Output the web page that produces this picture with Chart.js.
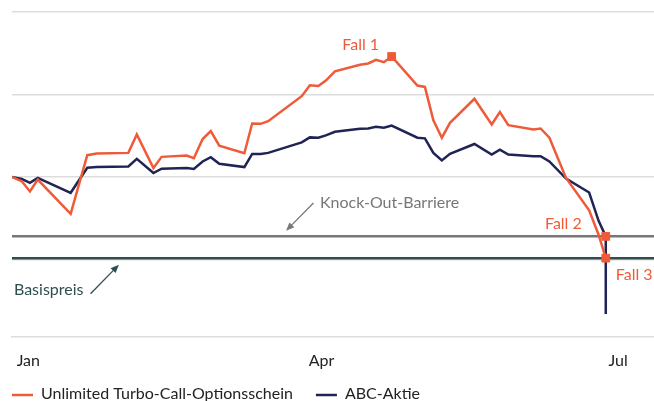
<!DOCTYPE html>
<html>
<head>
<meta charset="utf-8">
<script src="https://cdn.jsdelivr.net/npm/chart.js@4"></script>
<style>
  html, body { margin: 0; padding: 0; background: #fff; }
  #wrap { width: 654px; height: 401px; }
</style>
</head>
<body>
<div id="wrap"><canvas id="chart"></canvas></div>
<script>
// days since Jan 1 (negative = late December)
const days = [-5, -2, 0.5, 2.9, 13, 18.1, 21, 30.7, 33.3, 38.4, 40.9, 48.6, 50.8, 53.5, 56, 58.6,
  66.3, 68.7, 71.3, 73.6, 83.9, 86.4, 89, 91.3, 94.1, 101.8, 104.3, 106.7, 109.1, 111.5,
  119.4, 121.7, 124.3, 126.9, 129.4, 136.9, 142.2, 144.7, 147.3, 155, 157.2, 159.9,
  165, 172.1, 175, 177.2, 177.2];

const turbo = [50, 48.7, 45.6, 49.2, 38.8, 56.6, 57.1, 57.3, 62.9, 52.7, 56.1, 56.5, 55.7, 61.5, 63.9, 59.5,
  57.2, 66.2, 66.1, 66.9, 74.5, 77.8, 77.6, 79.2, 82, 84, 84.4, 85.5, 84.8, 86.5,
  77.7, 77.3, 67.2, 61.9, 66.4, 73.7, 65.9, 69.7, 65.7, 64.4, 64.7, 61.9,
  49.7, 39.9, 32.5, 25.4, null];

const aktie = [50, 49.4, 48.2, 49.7, 45.2, 52.8, 53, 53.2, 55.5, 51.2, 52.5, 52.7, 52.4, 54.7, 56, 54,
  53, 57, 57, 57.3, 60.5, 62, 61.9, 62.6, 63.7, 64.6, 64.7, 65.2, 64.9, 65.6,
  61.9, 61.7, 57.3, 55, 57, 60, 56.8, 58.3, 56.8, 56.3, 56.3, 54.7,
  49.5, 45.3, 36.7, 32, 8.5];

const barrier = 32;
const basis = 25.4;

const caseDays = [111.5, 177.2, 177.2];
const caseValues = [86.5, 32, 25.4];
const caseLabels = ["Fall 1", "Fall 2", "Fall 3"];

const monthTicks = [0, 90, 181];
const monthLabels = ["Jan", "Apr", "Jul"];
const gridValues = [25, 50, 75, 100];

const ORANGE = "#ef5b38";
const NAVY = "#1f2455";
const GREY = "#777777";
const TEAL = "#2f4e50";
const FONT = "Lato, 'Open Sans', sans-serif";

function arrow(ctx, x1, y1, x2, y2, color) {
  const a = Math.atan2(y2 - y1, x2 - x1);
  const head = 9;
  ctx.save();
  ctx.strokeStyle = color;
  ctx.fillStyle = color;
  ctx.lineWidth = 1.3;
  ctx.beginPath();
  ctx.moveTo(x1, y1);
  ctx.lineTo(x2 - Math.cos(a) * head * 0.8, y2 - Math.sin(a) * head * 0.8);
  ctx.stroke();
  ctx.beginPath();
  ctx.moveTo(x2, y2);
  ctx.lineTo(x2 - head * Math.cos(a - 0.4), y2 - head * Math.sin(a - 0.4));
  ctx.lineTo(x2 - head * Math.cos(a + 0.4), y2 - head * Math.sin(a + 0.4));
  ctx.closePath();
  ctx.fill();
  ctx.restore();
}

const levelsPlugin = {
  id: "levels",
  beforeDatasetsDraw(chart) {
    const { ctx, chartArea, scales: { y } } = chart;
    ctx.save();
    [[barrier, GREY], [basis, TEAL]].forEach(([v, c]) => {
      const py = y.getPixelForValue(v);
      ctx.strokeStyle = c;
      ctx.lineWidth = 2.5;
      ctx.beginPath();
      ctx.moveTo(chartArea.left, py);
      ctx.lineTo(chartArea.right, py);
      ctx.stroke();
    });
    ctx.restore();
  },
  afterDraw(chart) {
    const { ctx, scales: { x, y } } = chart;
    ctx.save();
    ctx.font = "16px " + FONT;
    ctx.textBaseline = "middle";

    // Knock-Out-Barriere label + arrow
    ctx.fillStyle = GREY;
    ctx.textAlign = "left";
    ctx.fillText("Knock-Out-Barriere", x.getPixelForValue(89.5), y.getPixelForValue(42.1));
    arrow(ctx, x.getPixelForValue(87.5), y.getPixelForValue(42.1), x.getPixelForValue(79.1), y.getPixelForValue(33.7), GREY);

    // Basispreis label + arrow
    ctx.fillStyle = TEAL;
    ctx.fillText("Basispreis", x.getPixelForValue(-4.4), y.getPixelForValue(15.8));
    arrow(ctx, x.getPixelForValue(19.1), y.getPixelForValue(14.6), x.getPixelForValue(27.8), y.getPixelForValue(23.4), TEAL);

    // case labels
    ctx.fillStyle = ORANGE;
    const offs = [[-31, -12, "center"], [-24, -13, "right"], [10, 17, "left"]];
    caseLabels.forEach((t, i) => {
      const px = x.getPixelForValue(caseDays[i]);
      const py = y.getPixelForValue(caseValues[i]);
      ctx.textAlign = offs[i][2];
      ctx.fillText(t, px + offs[i][0], py + offs[i][1]);
    });

    // legend
    ctx.textAlign = "left";
    ctx.fillStyle = "#222";
    let lx = 12;
    const ly = 394;
    chart.data.datasets.slice(0, 2).forEach(ds => {
      ctx.strokeStyle = ds.borderColor;
      ctx.lineWidth = 2.5;
      ctx.beginPath();
      ctx.moveTo(lx, ly + 1);
      ctx.lineTo(lx + 21, ly + 1);
      ctx.stroke();
      ctx.fillText(ds.label, lx + 29, ly);
      lx += 29 + ctx.measureText(ds.label).width + 23;
    });
    ctx.restore();
  }
};

new Chart(document.getElementById("chart"), {
  type: "line",
  data: {
    datasets: [
      {
        label: "Unlimited Turbo-Call-Optionsschein",
        data: days.map((d, i) => ({ x: d, y: turbo[i] })),
        borderColor: ORANGE,
        borderWidth: 2.5,
        pointRadius: 0,
        spanGaps: false
      },
      {
        label: "ABC-Aktie",
        data: days.map((d, i) => ({ x: d, y: aktie[i] })),
        borderColor: NAVY,
        borderWidth: 2.5,
        pointRadius: 0
      },
      {
        type: "scatter",
        label: "Fälle",
        data: caseDays.map((d, i) => ({ x: d, y: caseValues[i] })),
        backgroundColor: ORANGE,
        borderColor: ORANGE,
        pointStyle: "rect",
        pointRadius: 5.5,
        order: -1
      }
    ]
  },
  options: {
    responsive: true,
    maintainAspectRatio: false,
    animation: false,
    layout: { autoPadding: false, padding: { left: 12, top: 12, right: 0, bottom: 0 } },
    elements: { line: { tension: 0 } },
    plugins: { legend: { display: false }, tooltip: { enabled: false } },
    scales: {
      x: {
        type: "linear",
        min: -5,
        max: 192,
        afterBuildTicks: s => { s.ticks = monthTicks.map(v => ({ value: v })); },
        afterFit: s => { s.height = 64; s.paddingLeft = 0; s.paddingRight = 0; },
        ticks: {
          autoSkip: false,
          maxRotation: 0,
          padding: 14,
          color: "#222",
          font: { family: FONT, size: 16 },
          callback: v => monthLabels[monthTicks.indexOf(v)]
        },
        grid: { display: false, drawTicks: false },
        border: { display: true, color: "#dddddd", width: 1.5 }
      },
      y: {
        min: 1.5,
        max: 100,
        afterBuildTicks: s => { s.ticks = gridValues.map(v => ({ value: v })); },
        afterFit: s => { s.width = 0; s.paddingTop = 0; s.paddingBottom = 0; },
        ticks: { display: false },
        grid: { color: "#dddddd", lineWidth: 1.5, drawTicks: false },
        border: { display: false }
      }
    }
  },
  plugins: [levelsPlugin]
});
</script>
</body>
</html>
